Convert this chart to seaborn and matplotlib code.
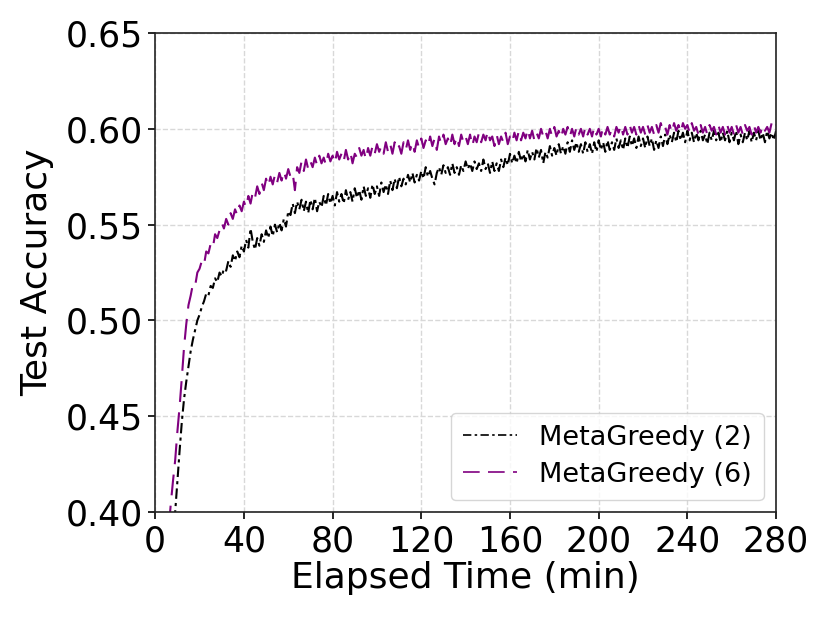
import numpy as np
import pandas as pd
import matplotlib
matplotlib.use("Agg")
import matplotlib.pyplot as plt
import seaborn as sns

# ---- data ----
time_2 = list(range(6, 281))
acc_2 = [
    0.350, 0.370, 0.386, 0.400, 0.416, 0.432, 0.447, 0.459, 0.468, 0.476,
    0.484, 0.490, 0.495, 0.500, 0.503, 0.507, 0.510, 0.514, 0.513, 0.518,
    0.517, 0.522, 0.520, 0.525, 0.523, 0.527, 0.526, 0.531, 0.528, 0.534,
    0.531, 0.536, 0.533, 0.539, 0.536, 0.542, 0.538, 0.548, 0.541, 0.537,
    0.543, 0.539, 0.545, 0.541, 0.547, 0.543, 0.549, 0.544, 0.550, 0.546,
    0.551, 0.547, 0.553, 0.549, 0.557, 0.555, 0.561, 0.556, 0.562, 0.558,
    0.563, 0.557, 0.562, 0.556, 0.563, 0.558, 0.564, 0.557, 0.562, 0.559,
    0.565, 0.560, 0.566, 0.561, 0.565, 0.560, 0.567, 0.562, 0.566, 0.561,
    0.568, 0.563, 0.567, 0.562, 0.569, 0.564, 0.568, 0.563, 0.570, 0.565,
    0.569, 0.564, 0.571, 0.566, 0.570, 0.565, 0.572, 0.567, 0.571, 0.566,
    0.573, 0.568, 0.574, 0.569, 0.575, 0.570, 0.574, 0.571, 0.576, 0.572,
    0.577, 0.572, 0.576, 0.573, 0.578, 0.574, 0.580, 0.575, 0.578, 0.574,
    0.571, 0.577, 0.580, 0.576, 0.581, 0.577, 0.580, 0.576, 0.582, 0.577,
    0.580, 0.576, 0.581, 0.578, 0.583, 0.579, 0.582, 0.578, 0.583, 0.579,
    0.582, 0.578, 0.584, 0.579, 0.582, 0.577, 0.583, 0.578, 0.582, 0.578,
    0.584, 0.580, 0.585, 0.581, 0.587, 0.582, 0.586, 0.582, 0.588, 0.583,
    0.587, 0.583, 0.589, 0.584, 0.588, 0.584, 0.590, 0.585, 0.589, 0.582,
    0.588, 0.585, 0.591, 0.586, 0.590, 0.586, 0.592, 0.587, 0.591, 0.587,
    0.593, 0.588, 0.594, 0.589, 0.593, 0.588, 0.592, 0.587, 0.593, 0.588,
    0.592, 0.587, 0.593, 0.588, 0.594, 0.589, 0.593, 0.588, 0.594, 0.589,
    0.593, 0.589, 0.595, 0.590, 0.594, 0.589, 0.595, 0.590, 0.596, 0.591,
    0.595, 0.590, 0.596, 0.591, 0.595, 0.590, 0.596, 0.591, 0.595, 0.589,
    0.594, 0.590, 0.596, 0.591, 0.597, 0.592, 0.597, 0.593, 0.598, 0.593,
    0.599, 0.594, 0.598, 0.593, 0.599, 0.594, 0.598, 0.593, 0.598, 0.594,
    0.599, 0.594, 0.597, 0.592, 0.598, 0.594, 0.599, 0.594, 0.598, 0.593,
    0.598, 0.594, 0.599, 0.593, 0.598, 0.594, 0.599, 0.592, 0.597, 0.593,
    0.598, 0.594, 0.599, 0.593, 0.598, 0.594, 0.599, 0.594, 0.598, 0.593,
    0.599, 0.595, 0.598, 0.594, 0.599,
]

time_6 = list(range(4, 281))
acc_6 = [
    0.360, 0.375, 0.390, 0.404, 0.416, 0.427, 0.442, 0.455, 0.470, 0.486,
    0.498, 0.508, 0.513, 0.519, 0.518, 0.525, 0.527, 0.531, 0.529, 0.536,
    0.535, 0.540, 0.538, 0.545, 0.543, 0.547, 0.551, 0.548, 0.553, 0.550,
    0.556, 0.553, 0.558, 0.555, 0.560, 0.557, 0.562, 0.559, 0.565, 0.561,
    0.567, 0.564, 0.570, 0.566, 0.572, 0.568, 0.574, 0.570, 0.575, 0.571,
    0.576, 0.572, 0.577, 0.573, 0.578, 0.574, 0.579, 0.575, 0.577, 0.568,
    0.580, 0.577, 0.583, 0.578, 0.584, 0.579, 0.583, 0.580, 0.585, 0.581,
    0.586, 0.582, 0.585, 0.581, 0.587, 0.583, 0.586, 0.582, 0.588, 0.584,
    0.587, 0.583, 0.589, 0.584, 0.588, 0.582, 0.587, 0.585, 0.590, 0.586,
    0.589, 0.584, 0.590, 0.586, 0.591, 0.587, 0.592, 0.588, 0.591, 0.587,
    0.593, 0.588, 0.592, 0.587, 0.593, 0.589, 0.591, 0.587, 0.593, 0.589,
    0.594, 0.589, 0.593, 0.588, 0.594, 0.590, 0.595, 0.590, 0.594, 0.591,
    0.596, 0.591, 0.595, 0.589, 0.596, 0.592, 0.597, 0.592, 0.595, 0.591,
    0.597, 0.592, 0.596, 0.591, 0.597, 0.593, 0.596, 0.592, 0.597, 0.591,
    0.596, 0.593, 0.598, 0.593, 0.597, 0.594, 0.599, 0.594, 0.596, 0.591,
    0.597, 0.592, 0.596, 0.593, 0.598, 0.592, 0.596, 0.593, 0.598, 0.594,
    0.599, 0.594, 0.598, 0.595, 0.600, 0.595, 0.599, 0.594, 0.598, 0.595,
    0.600, 0.596, 0.599, 0.595, 0.600, 0.596, 0.601, 0.596, 0.599, 0.595,
    0.600, 0.597, 0.601, 0.596, 0.600, 0.596, 0.601, 0.597, 0.600, 0.596,
    0.601, 0.597, 0.600, 0.596, 0.601, 0.597, 0.600, 0.596, 0.601, 0.597,
    0.601, 0.597, 0.600, 0.596, 0.601, 0.598, 0.602, 0.597, 0.601, 0.597,
    0.602, 0.598, 0.601, 0.597, 0.602, 0.598, 0.601, 0.597, 0.602, 0.598,
    0.601, 0.597, 0.602, 0.598, 0.603, 0.599, 0.601, 0.597, 0.602, 0.598,
    0.603, 0.599, 0.602, 0.598, 0.603, 0.600, 0.602, 0.598, 0.603, 0.599,
    0.601, 0.597, 0.602, 0.598, 0.601, 0.597, 0.602, 0.599, 0.601, 0.597,
    0.602, 0.598, 0.601, 0.597, 0.602, 0.598, 0.601, 0.597, 0.602, 0.598,
    0.601, 0.597, 0.602, 0.599, 0.601, 0.597, 0.602, 0.598, 0.601, 0.598,
    0.602, 0.599, 0.601, 0.598, 0.603, 0.600, 0.602,
]

series_labels = ["MetaGreedy (2)", "MetaGreedy (6)"]
x_ticks = [0, 40, 80, 120, 160, 200, 240, 280]
y_ticks = [0.40, 0.45, 0.50, 0.55, 0.60, 0.65]

df2 = pd.DataFrame({"time": time_2, "acc": acc_2})
df6 = pd.DataFrame({"time": time_6, "acc": acc_6})

# ---- style ----
sns.set_theme(style="ticks", rc={
    "text.color": "black", "axes.labelcolor": "black",
    "xtick.color": "black", "ytick.color": "black",
    "axes.edgecolor": "#222222",
})
plt.rcParams["font.family"] = ["DejaVu Sans"]

fig = plt.figure(figsize=(8.3, 6.23), dpi=100)
ax = fig.add_axes([0.187, 0.178, 0.748, 0.769])

sns.lineplot(data=df2, x="time", y="acc", ax=ax, color="black",
             linewidth=1.5, linestyle=(0, (5, 2, 1.5, 2)),
             label=series_labels[0], estimator=None)
sns.lineplot(data=df6, x="time", y="acc", ax=ax, color="#800080",
             linewidth=1.5, linestyle=(0, (10, 5)),
             label=series_labels[1], estimator=None)

ax.set_xlim(0, 280)
ax.set_ylim(0.40, 0.65)
ax.set_xticks(x_ticks)
ax.set_yticks(y_ticks)
ax.set_yticklabels([f"{v:.2f}" for v in y_ticks])
ax.tick_params(axis="both", labelsize=25, direction="out", length=5,
               width=1.2, pad=4)
ax.set_xlabel("Elapsed Time (min)", fontsize=26, labelpad=2)
ax.set_ylabel("Test Accuracy", fontsize=26, labelpad=8)

ax.grid(True, linestyle="--", color="#d8d8d8", linewidth=1.0)
for s in ax.spines.values():
    s.set_visible(True)
    s.set_linewidth(1.2)

leg = ax.legend(loc="lower right", fontsize=19.5, frameon=True,
                handlelength=2.0, framealpha=0.8, borderpad=0.45,
                labelspacing=0.4, borderaxespad=0.45)
leg.get_frame().set_edgecolor("#cccccc")
for h in leg.get_lines():
    h.set_linewidth(1.2)

fig.savefig("out.png", dpi=100)
